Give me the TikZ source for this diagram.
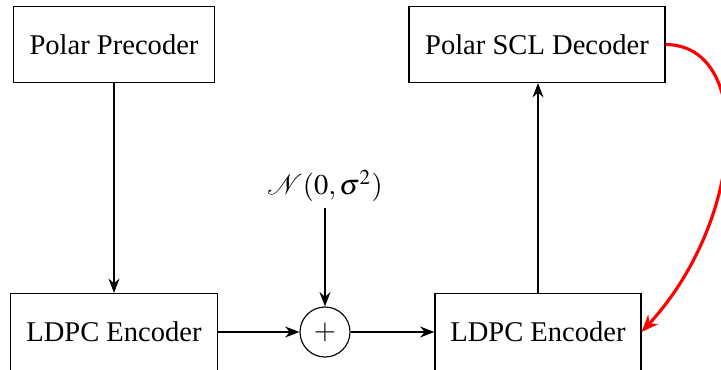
\documentclass[tikz,border=0pt]{standalone}
\usepackage{mathptmx}
\usepackage[no-math]{fontspec}
\setmainfont{Liberation Serif}
\newfontfamily\tnr{Liberation Serif}
\usetikzlibrary{arrows.meta}
\begin{document}
\begin{tikzpicture}[x=0.35pt,y=-0.35pt,
  blk/.style={draw, line width=0.4pt, inner sep=0pt, font=\tnr\fontsize{10}{12}\selectfont},
  sumnode/.style={draw, circle, line width=0.4pt, minimum size=50*0.35pt, inner sep=0pt},
  arr/.style={-{Stealth[length=5pt,width=3.8pt]}, line width=0.65pt},
  redarr/.style={-{Stealth[length=6pt,width=4.8pt]}, draw=red, line width=1.1pt}]
\useasboundingbox (0,0) rectangle (721,369);
\node[blk, minimum width=201*0.35pt, minimum height=76*0.35pt] (pre) at (114,44.5) {Polar Precoder};
\node[blk, minimum width=256*0.35pt, minimum height=76*0.35pt] (scl) at (537,44.5) {Polar SCL Decoder};
\node[blk, minimum width=207*0.35pt, minimum height=77*0.35pt] (enc1) at (114,332) {LDPC Encoder};
\node[blk, minimum width=206*0.35pt, minimum height=77*0.35pt] (enc2) at (538,332) {LDPC Encoder};
\node[sumnode] (sum) at (325,332) {$+$};
\node[font=\fontsize{10}{12}\selectfont, inner sep=2pt] (noise) at (325,186) {$\mathcal{N}(0,\sigma^2)$};
\draw[arr] (pre.south) -- (enc1.north);
\draw[arr] (enc1.east) -- (sum.west);
\draw[arr] (sum.east) -- (enc2.west);
\draw[arr] (noise.south) -- (sum.north);
\draw[arr] (enc2.north) -- (scl.south -| enc2.north);
\draw[redarr] (scl.east) .. controls (755,45) and (745,220) .. (enc2.east);
\end{tikzpicture}
\end{document}
